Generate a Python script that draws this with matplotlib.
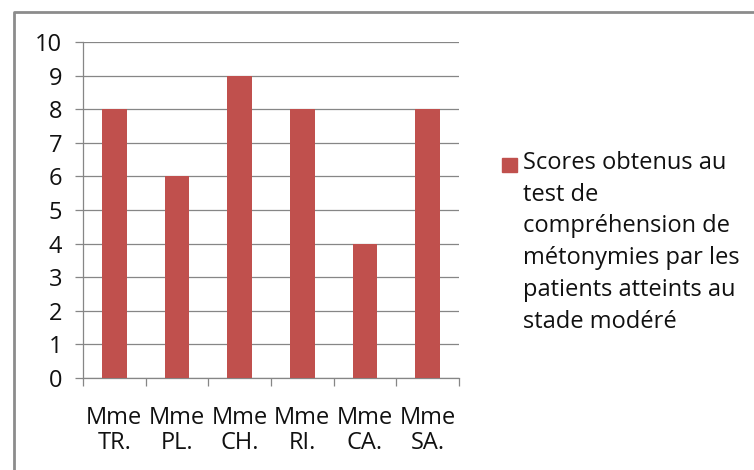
import matplotlib.pyplot as plt
import numpy as np
from matplotlib.patches import Rectangle
from matplotlib.lines import Line2D

patients = ['Mme\nTR.', 'Mme\nPL.', 'Mme\nCH.', 'Mme\nRI.', 'Mme\nCA.', 'Mme\nSA.']
scores = [8, 6, 9, 8, 4, 8]
series_label = ('Scores obtenus au\ntest de\ncompréhension de\n'
                'métonymies par les\npatients atteints au\nstade modéré')

bar_color = '#C0504D'
grid_color = '#868686'

plt.rcParams['font.family'] = ['Open Sans', 'DejaVu Sans']

fig = plt.figure(figsize=(7.54, 4.70), dpi=100)
ax = fig.add_axes([83 / 754, 1 - 378 / 470, (459 - 83) / 754, (378 - 42) / 470])

x = np.arange(len(patients))
ax.bar(x, scores, width=0.39, color=bar_color, zorder=3)

ax.set_xlim(-0.5, len(patients) - 0.5)
ax.set_ylim(0, 10)
ax.set_yticks(range(0, 11))
ax.yaxis.grid(True, color=grid_color, linewidth=0.9, zorder=0)

ax.set_xticks(x)
ax.set_xticklabels(patients, fontsize=17, linespacing=1.08, color='#111111')
ax.set_xticks(np.arange(-0.5, len(patients)), minor=True)
ax.tick_params(axis='x', which='major', length=0, pad=20)
ax.tick_params(axis='x', which='minor', length=6, width=0.9, color=grid_color)
ax.tick_params(axis='y', length=6, width=0.9, color=grid_color, labelsize=17, pad=9,
               labelcolor='#111111')

for side in ['top', 'right']:
    ax.spines[side].set_visible(False)
for side in ['left', 'bottom']:
    ax.spines[side].set_color(grid_color)
    ax.spines[side].set_linewidth(0.9)

# legend drawn by hand so the marker sits next to the first line
fig.add_artist(Rectangle((502 / 754, 1 - 172 / 470), 15 / 754, 14 / 470,
                         transform=fig.transFigure, color=bar_color))
fig.text(523 / 754, 1 - 151 / 470, series_label, fontsize=17,
         va='top', ha='left', linespacing=1.43, color='#111111')

# outer chart border
fig.add_artist(Line2D([14 / 754, 14 / 754, 1.0], [0.0, 1 - 12 / 470, 1 - 12 / 470],
                      transform=fig.transFigure, color='#8C8C8C', linewidth=2))

fig.savefig('out.png', dpi=100)
